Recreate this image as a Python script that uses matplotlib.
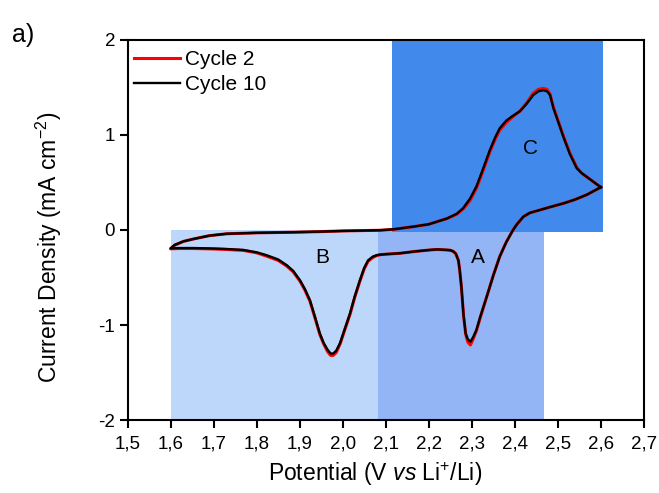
import matplotlib
matplotlib.use("Agg")
import matplotlib.pyplot as plt
from matplotlib.patches import Rectangle

plt.rcParams['font.family'] = ['Liberation Sans', 'DejaVu Sans']
plt.rcParams['mathtext.fontset'] = 'custom'
plt.rcParams['mathtext.rm'] = 'Liberation Sans'
plt.rcParams['mathtext.it'] = 'Liberation Sans:italic'

# Cycle 10 (black): loop starting at 2.6 V, cathodic sweep then anodic sweep
c10_E = [2.600, 2.567, 2.540, 2.513, 2.485, 2.458, 2.435, 2.420, 2.405, 2.396, 2.380, 2.365,
         2.350, 2.335, 2.320, 2.311, 2.303, 2.297, 2.291, 2.286, 2.281, 2.276, 2.272, 2.269,
         2.263, 2.257, 2.250, 2.242, 2.220, 2.203, 2.170, 2.133, 2.100, 2.087, 2.079, 2.070,
         2.059, 2.050, 2.040, 2.028, 2.017, 2.005, 1.994, 1.985, 1.978, 1.972, 1.965, 1.956,
         1.947, 1.936, 1.924, 1.912, 1.901, 1.885, 1.870, 1.850, 1.823, 1.800, 1.769, 1.730,
         1.700, 1.653, 1.620, 1.600,
         1.610, 1.630, 1.653, 1.690, 1.730, 1.800, 1.885, 1.950, 2.000, 2.087, 2.118, 2.164,
         2.200, 2.242, 2.265, 2.280, 2.296, 2.311, 2.326, 2.342, 2.355, 2.365, 2.380, 2.395,
         2.412, 2.428, 2.443, 2.455, 2.466, 2.475, 2.482, 2.490, 2.500, 2.513, 2.528, 2.544,
         2.555, 2.567, 2.585, 2.600]
c10_J = [0.45, 0.37, 0.32, 0.28, 0.245, 0.21, 0.18, 0.14, 0.06, 0.0, -0.13, -0.28,
         -0.48, -0.70, -0.91, -1.05, -1.13, -1.175, -1.15, -1.09, -0.90, -0.60, -0.42, -0.32,
         -0.25, -0.225, -0.213, -0.21, -0.205, -0.21, -0.225, -0.245, -0.255, -0.26, -0.265, -0.28,
         -0.32, -0.40, -0.53, -0.70, -0.88, -1.04, -1.19, -1.27, -1.30, -1.30, -1.26, -1.19,
         -1.09, -0.92, -0.74, -0.62, -0.53, -0.43, -0.37, -0.31, -0.265, -0.235, -0.21, -0.20,
         -0.195, -0.19, -0.19, -0.193,
         -0.155, -0.12, -0.095, -0.06, -0.04, -0.03, -0.024, -0.017, -0.01, -0.003, 0.007, 0.035,
         0.06, 0.12, 0.17, 0.23, 0.33, 0.46, 0.64, 0.84, 0.98, 1.07, 1.15, 1.20,
         1.25, 1.33, 1.42, 1.46, 1.47, 1.46, 1.42, 1.28, 1.15, 0.98, 0.80, 0.65,
         0.60, 0.56, 0.50, 0.45]

# Cycle 2 (red)
c2_E = c10_E
c2_J = [0.45, 0.37, 0.32, 0.28, 0.245, 0.21, 0.18, 0.14, 0.06, 0.0, -0.13, -0.28,
        -0.48, -0.70, -0.92, -1.06, -1.15, -1.21, -1.18, -1.10, -0.90, -0.60, -0.42, -0.32,
        -0.25, -0.225, -0.213, -0.21, -0.205, -0.21, -0.225, -0.245, -0.255, -0.26, -0.27, -0.29,
        -0.33, -0.41, -0.54, -0.71, -0.89, -1.05, -1.20, -1.29, -1.32, -1.32, -1.28, -1.20,
        -1.10, -0.93, -0.75, -0.63, -0.54, -0.44, -0.38, -0.32, -0.275, -0.24, -0.215, -0.205,
        -0.20, -0.195, -0.195, -0.198,
        -0.16, -0.12, -0.095, -0.06, -0.04, -0.03, -0.024, -0.017, -0.01, -0.003, 0.007, 0.035,
        0.06, 0.12, 0.165, 0.22, 0.31, 0.44, 0.62, 0.82, 0.96, 1.05, 1.13, 1.19,
        1.25, 1.34, 1.44, 1.48, 1.49, 1.48, 1.43, 1.29, 1.16, 0.99, 0.81, 0.66,
        0.60, 0.56, 0.50, 0.45]

xticks = [1.5, 1.6, 1.7, 1.8, 1.9, 2.0, 2.1, 2.2, 2.3, 2.4, 2.5, 2.6, 2.7]
xticklabels = ['1,5', '1,6', '1,7', '1,8', '1,9', '2,0', '2,1', '2,2', '2,3', '2,4', '2,5', '2,6', '2,7']
yticks = [-2, -1, 0, 1, 2]
yticklabels = ['-2', '-1', '0', '1', '2']

peak_labels = ['A', 'B', 'C']
peak_pos = [(2.314, -0.29), (1.952, -0.29), (2.437, 0.86)]

fig = plt.figure(figsize=(6.59, 4.93), dpi=100)
ax = fig.add_axes([0.1935, 0.148, 0.7835, 0.771])

ax.add_patch(Rectangle((1.6, -2), 0.482, 2.0, facecolor='#BDD7FB', edgecolor='none', zorder=0))
ax.add_patch(Rectangle((2.082, -2), 0.386, 2.0, facecolor='#94B5F5', edgecolor='none', zorder=0))
ax.add_patch(Rectangle((2.114, -0.018), 0.491, 2.018, facecolor='#418AEC', edgecolor='none', zorder=0))

ax.plot(c2_E, c2_J, color='#FF0000', lw=2.2, label='Cycle 2', zorder=2)
ax.plot(c10_E, c10_J, color='black', lw=1.7, label='Cycle 10', zorder=3)

for lab, (px, py) in zip(peak_labels, peak_pos):
    ax.text(px, py, lab, fontsize=15, ha='center', va='center', zorder=4)

ax.set_xlim(1.5, 2.7)
ax.set_ylim(-2, 2)
ax.set_xticks(xticks)
ax.set_xticklabels(xticklabels)
ax.set_yticks(yticks)
ax.set_yticklabels(yticklabels)
ax.tick_params(direction='out', length=6, width=1.5, labelsize=13.5)
ax.tick_params(axis='x', pad=5)
ax.tick_params(axis='y', pad=3)
for s in ax.spines.values():
    s.set_linewidth(1.5)

ax.set_xlabel(r'Potential (V $\mathit{vs}$ Li$^{+}$/Li)', fontsize=16.5)
ax.set_ylabel(r'Current Density (mA cm$^{-2}$)', fontsize=16.5)
ax.xaxis.set_label_coords(0.48, -0.105)
ax.yaxis.set_label_coords(-0.123, 0.453)

leg = ax.legend(loc='upper left', bbox_to_anchor=(0.0, 0.99), frameon=False, fontsize=15,
                handlelength=2.2, handletextpad=0.25, borderaxespad=0.0, borderpad=0.3,
                labelspacing=0.3)

fig.text(0.018, 0.915, 'a)', fontsize=18)

fig.savefig('out.png', dpi=100)
